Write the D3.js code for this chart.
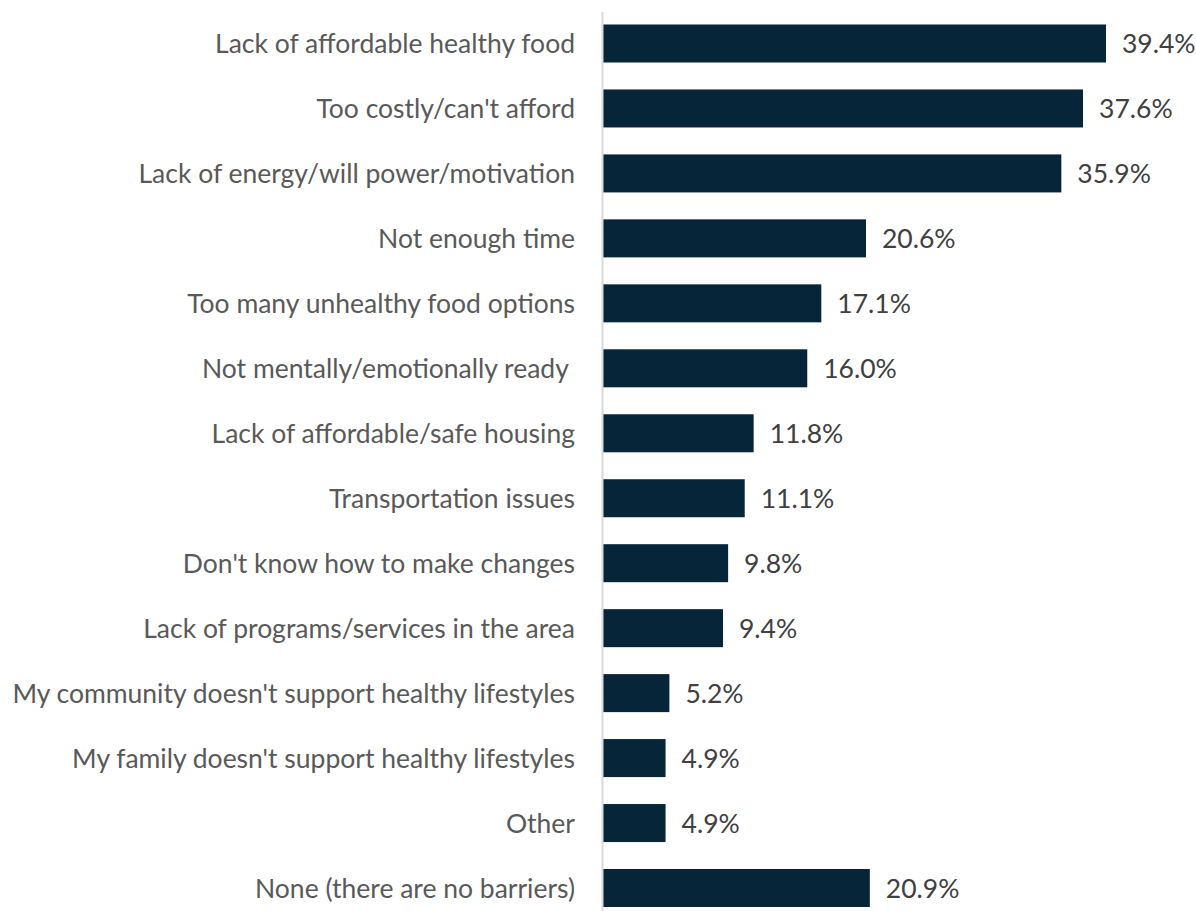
<!DOCTYPE html>
<html><head><meta charset="utf-8">
<script src="https://cdn.jsdelivr.net/npm/d3@7"></script>
<style>body{margin:0;background:#fff}svg{display:block}</style>
</head><body>
<svg id="c" width="1196" height="911"></svg>
<script>
const categories = [
  "Lack of affordable healthy food",
  "Too costly/can't afford",
  "Lack of energy/will power/motivation",
  "Not enough time",
  "Too many unhealthy food options",
  "Not mentally/emotionally ready ",
  "Lack of affordable/safe housing",
  "Transportation issues",
  "Don't know how to make changes",
  "Lack of programs/services in the area",
  "My community doesn't support healthy lifestyles",
  "My family doesn't support healthy lifestyles",
  "Other",
  "None (there are no barriers)"
];
const values = [39.4, 37.6, 35.9, 20.6, 17.1, 16.0, 11.8, 11.1, 9.8, 9.4, 5.2, 4.9, 4.9, 20.9];
const valueLabels = ["39.4%","37.6%","35.9%","20.6%","17.1%","16.0%","11.8%","11.1%","9.8%","9.4%","5.2%","4.9%","4.9%","20.9%"];

const svg = d3.select("#c");
const x0 = 603;
const x = d3.scaleLinear().domain([0, 39.4]).range([x0, 1106]);
const y = d3.scaleBand().domain(categories).range([11.5, 920]).paddingInner(0.415).paddingOuter(0.2);

const font = "Lato, 'Open Sans', sans-serif";
const fs = 26.5;

svg.append("g").selectAll("rect").data(values).join("rect")
  .attr("x", x0)
  .attr("y", (d,i) => y(categories[i]))
  .attr("width", d => x(d) - x0)
  .attr("height", y.bandwidth())
  .attr("fill", "#062538");

svg.append("line").attr("x1", x0 - 0.5).attr("x2", x0 - 0.5).attr("y1", 12).attr("y2", 911)
  .attr("stroke", "#d9d9d9").attr("stroke-width", 2);

svg.append("g").selectAll("text").data(categories).join("text")
  .attr("x", 575)
  .attr("y", d => y(d) + y.bandwidth()/2)
  .attr("dy", "0.36em")
  .attr("text-anchor", "end")
  .attr("font-family", font).attr("font-size", fs).attr("fill", "#595959")
  .attr("xml:space", "preserve")
  .text(d => d);

svg.append("g").selectAll("text").data(values).join("text")
  .attr("x", d => x(d) + 16)
  .attr("y", (d,i) => y(categories[i]) + y.bandwidth()/2)
  .attr("dy", "0.36em")
  .attr("font-family", font).attr("font-size", fs).attr("fill", "#404040")
  .text((d,i) => valueLabels[i]);
</script>
</body></html>
